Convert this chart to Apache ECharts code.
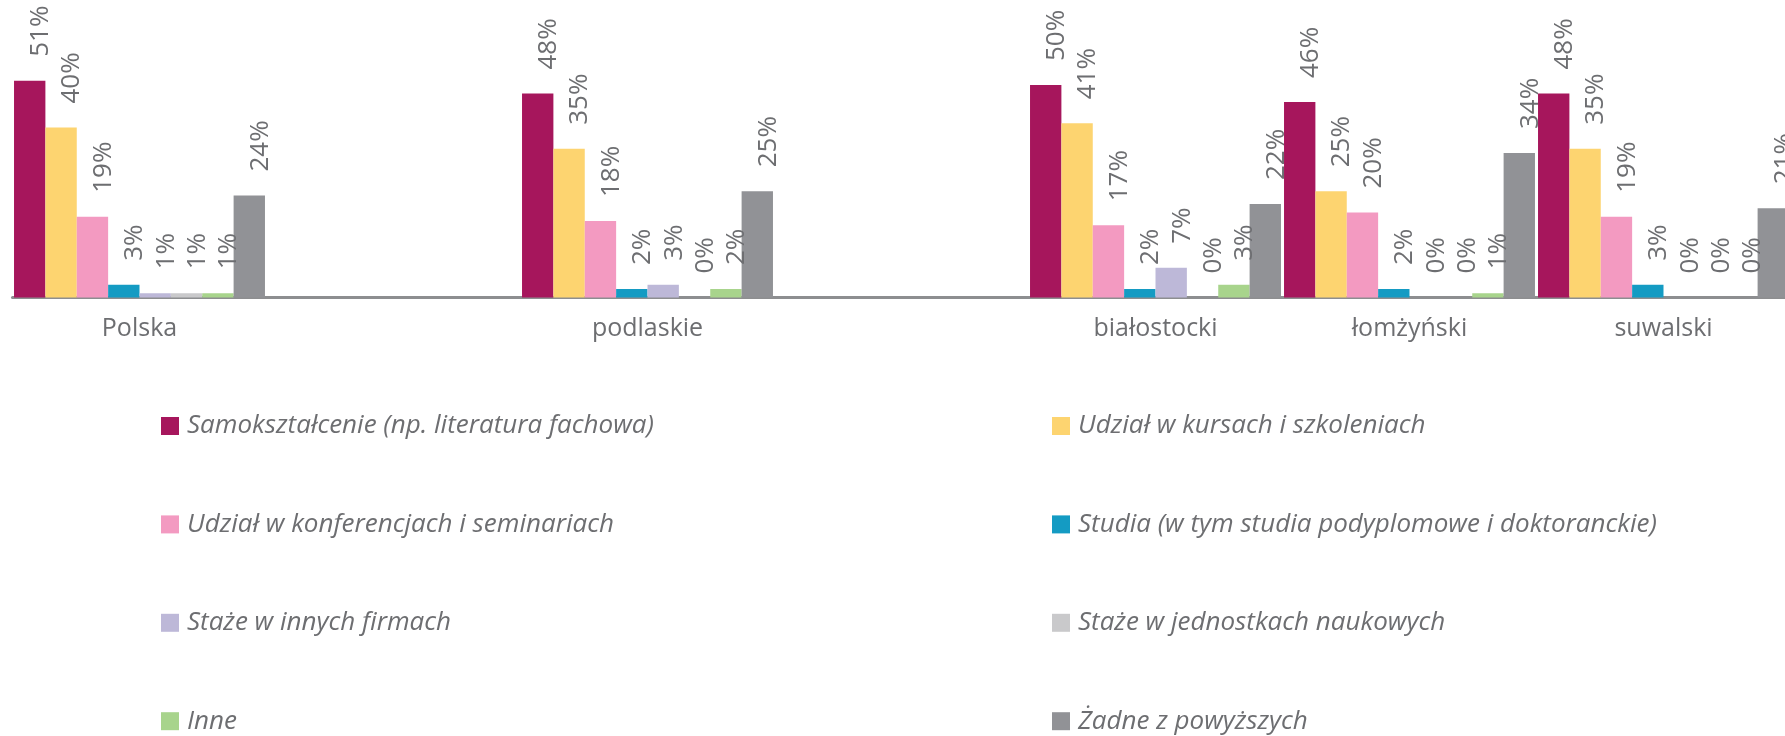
<!DOCTYPE html>
<html lang="pl">
<head>
<meta charset="utf-8">
<title>Formy podnoszenia kwalifikacji</title>
<script src="https://cdn.jsdelivr.net/npm/echarts@6/dist/echarts.min.js"></script>
<style>
  html, body { margin: 0; padding: 0; background: #ffffff; overflow: hidden; }
  #chart { width: 1785px; height: 736px; }
</style>
</head>
<body>
<div id="chart"></div>
<script>
// Regions (empty slots keep the wider spacing between groups)
const categories = ['Polska', '', 'podlaskie', '', 'białostocki', 'łomżyński', 'suwalski'];

const seriesNames = [
  'Samokształcenie (np. literatura fachowa)',
  'Udział w kursach i szkoleniach',
  'Udział w konferencjach i seminariach',
  'Studia (w tym studia podyplomowe i doktoranckie)',
  'Staże w innych firmach',
  'Staże w jednostkach naukowych',
  'Inne',
  'Żadne z powyższych'
];

// Shares in percent, one value per category ('-' = no bar)
const samoksztalcenie = [51, '-', 48, '-', 50, 46, 48];
const kursy           = [40, '-', 35, '-', 41, 25, 35];
const konferencje     = [19, '-', 18, '-', 17, 20, 19];
const studia          = [3,  '-', 2,  '-', 2,  2,  3];
const stazeFirmy      = [1,  '-', 3,  '-', 7,  0,  0];
const stazeNaukowe    = [1,  '-', 0,  '-', 0,  0,  0];
const inne            = [1,  '-', 2,  '-', 3,  1,  0];
const zadne           = [24, '-', 25, '-', 22, 34, 21];

const values = [samoksztalcenie, kursy, konferencje, studia, stazeFirmy, stazeNaukowe, inne, zadne];

const colors = ['#a6165c', '#fdd470', '#f39ac1', '#149bc3', '#bdb8d8', '#c9c9cb', '#a8d48c', '#919296'];

const textGray = '#6d6e71';
const fontFamily = '"Open Sans", "Noto Sans", sans-serif';

const chart = echarts.init(document.getElementById('chart'), null, { renderer: 'canvas' });

const series = values.map((data, i) => ({
  name: seriesNames[i],
  type: 'bar',
  data: data,
  itemStyle: { color: colors[i] },
  barGap: '0%',
  barCategoryGap: '1.2%',
  label: {
    show: true,
    position: 'top',
    distance: 24,
    rotate: 90,
    align: 'left',
    verticalAlign: 'middle',
    offset: [0, 11],
    formatter: '{c}%',
    color: textGray,
    fontFamily: fontFamily,
    fontSize: 26
  },
  emphasis: { disabled: true }
}));

const legendCommon = {
  orient: 'vertical',
  top: 413,
  padding: 0,
  icon: 'rect',
  itemWidth: 18,
  itemHeight: 18,
  itemGap: 72.4,
  textStyle: {
    color: textGray,
    fontFamily: fontFamily,
    fontStyle: 'italic',
    fontSize: 26,
    padding: [0, 0, 0, 3]
  }
};

chart.setOption({
  animation: false,
  color: colors,
  grid: {
    left: 12.5,
    top: 0,
    width: 1778,
    height: 297.5,
    containLabel: false,
    outerBoundsMode: 'none'
  },
  legend: [
    Object.assign({}, legendCommon, {
      left: 161,
      data: [seriesNames[0], seriesNames[2], seriesNames[4], seriesNames[6]]
    }),
    Object.assign({}, legendCommon, {
      left: 1052,
      data: [seriesNames[1], seriesNames[3], seriesNames[5], seriesNames[7]]
    })
  ],
  xAxis: {
    type: 'category',
    data: categories,
    axisLine: { show: true, lineStyle: { color: '#8d8e90', width: 3 } },
    axisTick: { show: false },
    axisLabel: {
      color: textGray,
      fontFamily: fontFamily,
      fontSize: 25,
      margin: 19,
      interval: 0
    },
    splitLine: { show: false }
  },
  yAxis: {
    type: 'value',
    min: 0,
    max: 70,
    show: false,
    splitLine: { show: false }
  },
  series: series
});
</script>
</body>
</html>
